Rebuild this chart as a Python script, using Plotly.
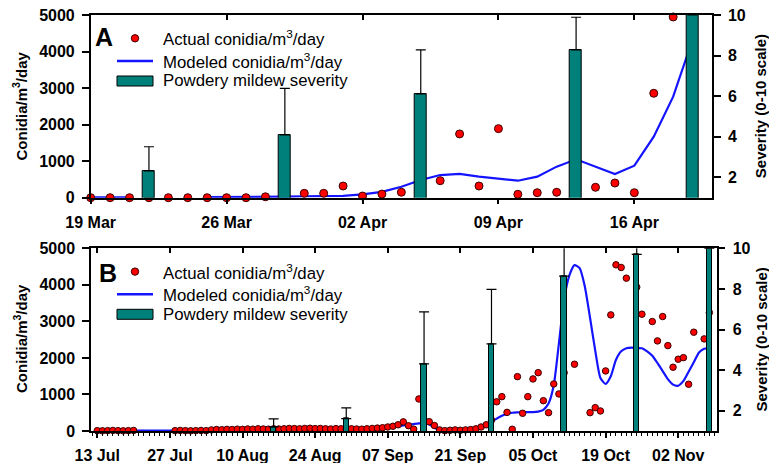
import plotly.graph_objects as go
import pandas as pd

W, H = 769, 463
FONT = "Liberation Sans, Arial, sans-serif"
RED = "#ff0000"
DOT_EDGE = "#3a0000"
BLUE = "#1414ff"
TEAL = "#00807a"

# ---------------- Panel A data ----------------
a_dates = pd.date_range("2019-03-19", periods=32, freq="D")
a_actual = [0, 0, 0, 0, 0, 0, 0, 0, 0, 25, None, 120, 120, 320, 45, 100,
            150, None, 465, 1745, 320, 1890, 93, 137, 148, None, 285, 402,
            137, 2858, 4947, None]
a_model = [10, 10, 10, None, None, None, 15, 15, 20, 25, 30, 40, 45, 50,
           90, 160, 300, 485, 620, 650, 575, 530, 465, 575, 850, 1050, 850,
           650, 876, 1670, 2765, 4330]
a_bar_dates = ["2019-03-22", "2019-03-29", "2019-04-05", "2019-04-13", "2019-04-19"]
a_severity = [2.32, 4.09, 6.11, 8.28, 10.0]
a_sev_err = [1.19, 2.30, 2.17, 1.61, 1.0]

# ---------------- Panel B data ----------------
b_dates = pd.date_range("2019-07-13", periods=119, freq="D")
b_actual = ([10, 5, 10, 15, 10, 5, 10, 15] +
            [None] * 7 +
            [10, 15, 10, 5, 10, 15, 10] +
            [30, 40, 35, 45, 40, 50, 45, 55, 50, 60, 55, 50] +
            [60] +
            [55, 60, 70, 65, 60, 70, 75, 65, 70, 60, 55, 65, 60] +
            [50] +
            [60, 55, 50, 60, 70, 80] +
            [90, 110, 130, 170, 250, 145, 50, 877, 300] +
            [255, 150, 30, 10, 20, 30, 20, 30, 40, 60, 110, 170, 300] +
            [800, 940, 510, 47, 1488, 485, 940, 1425, 1597, 830, 502, 1288,
             1014, 1597, None, 1827, None, None, 502, 639, 548, 1644, 3178,
             4548, 4475, 4183, None, 3937, 3197, None, 2995, 2466, 3132,
             2337, 1745, 1964, 2008, 1280, 2704, None, 2521, 3241])
b_model = ([10] * 21 + [15] * 9 +
           [20, 20, 25, 25, 30, 30, 30, 35, 35, 35, 40, 40, 40, 45, 45, 45,
            50, 50, 50, 50] +
           [50, 55, 60, 70, 80, 90, 100, 115, 130, 150, 170, 190, 210] +
           [220, 180, 90, 30, 15, 10, 10, 10, 15, 25, 50, 110, 180, 250, 340,
            420, 470, 500, 510, 515, 515, 515, 530, 580, 750, 1250, 2400,
            3600, 4250, 4540, 4456, 3950, 3100, 2200, 1450, 1290, 1500, 1950,
            2180, 2265, 2280, 2270, 2265, 2180, 2060, 1860, 1640, 1420, 1270,
            1240, 1370, 1620, 1880, 2150, 2250, 2270])
b_bar_dates = ["2019-08-16", "2019-08-30", "2019-09-14", "2019-09-27",
               "2019-10-11", "2019-10-25", "2019-11-08"]
b_severity = [1.2, 1.61, 4.31, 5.29, 8.63, 9.70, 10.0]
b_sev_err = [0.4, 0.53, 2.56, 2.69, 2.0, 1.5, 1.0]

assert len(b_actual) == 119 and len(b_model) == 119

legend_labels = ["Actual conidia/m<sup>3</sup>/day",
                 "Modeled conidia/m<sup>3</sup>/day",
                 "Powdery mildew severity"]
left_title = "Conidia/m<sup>3</sup>/day"
right_title = "Severity (0-10 scale)"

DAY_MS = 86400000

fig = go.Figure()

# ---- Panel A traces ----
fig.add_trace(go.Scatter(x=a_dates, y=a_model, mode="lines",
                         line=dict(color=BLUE, width=2.2), connectgaps=False,
                         cliponaxis=False, xaxis="x", yaxis="y", showlegend=False))
fig.add_trace(go.Scatter(x=a_dates, y=a_actual, mode="markers",
                         marker=dict(size=8, color=RED, line=dict(color=DOT_EDGE, width=1)),
                         cliponaxis=False, xaxis="x", yaxis="y", showlegend=False))
fig.add_trace(go.Bar(x=a_bar_dates, y=a_severity, width=0.62 * DAY_MS,
                     marker=dict(color=TEAL, line=dict(color="black", width=1)),
                     error_y=dict(type="data", symmetric=False, array=a_sev_err,
                                  arrayminus=[0] * len(a_sev_err), color="black",
                                  thickness=1.2, width=5),
                     xaxis="x", yaxis="y2", showlegend=False))
fig.add_trace(go.Scatter(x=[a_dates[0]], y=[None], xaxis="x3", yaxis="y",
                         showlegend=False, hoverinfo="skip"))

# ---- Panel B traces ----
fig.add_trace(go.Scatter(x=b_dates, y=b_model, mode="lines",
                         line=dict(color=BLUE, width=2.2, shape="spline", smoothing=0.6),
                         cliponaxis=False, xaxis="x2", yaxis="y3", showlegend=False))
fig.add_trace(go.Scatter(x=b_dates, y=b_actual, mode="markers",
                         marker=dict(size=6.5, color=RED, line=dict(color=DOT_EDGE, width=1)),
                         cliponaxis=False, xaxis="x2", yaxis="y3", showlegend=False))
fig.add_trace(go.Bar(x=b_bar_dates, y=b_severity, width=1.06 * DAY_MS,
                     marker=dict(color=TEAL, line=dict(color="black", width=1)),
                     error_y=dict(type="data", symmetric=False, array=b_sev_err,
                                  arrayminus=[0] * len(b_sev_err), color="black",
                                  thickness=1.2, width=5),
                     xaxis="x2", yaxis="y4", showlegend=False))
fig.add_trace(go.Scatter(x=[b_dates[0]], y=[None], xaxis="x4", yaxis="y3",
                         showlegend=False, hoverinfo="skip"))


def px(x):
    return x / W


def py(y):
    return 1 - y / H


tickfont = dict(family=FONT, size=16, color="black", weight="bold")
axis_common = dict(showline=True, linecolor="black", linewidth=1.5, showgrid=False,
                   zeroline=False, tickcolor="black", tickwidth=1.5,
                   tickfont=tickfont, automargin=False)

A_x = [px(90.7), px(712)]
A_y = [py(197.7), py(15)]
B_x = [px(91), px(716.7)]
B_y = [py(431), py(248.3)]

a_range = ["2019-03-19", "2019-04-20"]
b_range = ["2019-07-11 19:00", "2019-11-09 10:00"]

fig.update_layout(
    width=W, height=H,
    margin=dict(l=0, r=0, t=0, b=0),
    paper_bgcolor="white", plot_bgcolor="rgba(0,0,0,0)",
    font=dict(family=FONT, color="black"),
    showlegend=False,
    bargap=0,
    xaxis=dict(domain=A_x, anchor="y", type="date", range=a_range,
               tick0="2019-03-19", dtick=7 * DAY_MS, tickformat="%d %b",
               ticks="outside", ticklen=5, ticklabelstandoff=4, **axis_common),
    xaxis3=dict(overlaying="x", anchor="y", side="top", type="date", range=a_range,
                tick0="2019-03-19", dtick=7 * DAY_MS, ticks="inside", ticklen=5,
                showticklabels=False, **axis_common),
    yaxis=dict(domain=A_y, anchor="x", range=[0, 5000], dtick=1000,
               ticks="outside", ticklen=7, ticklabelstandoff=4, **axis_common),
    yaxis2=dict(overlaying="y", anchor="x", side="right", range=[1, 10],
                tickvals=[2, 4, 6, 8, 10], ticks="outside", ticklen=7,
                ticklabelstandoff=4, **axis_common),
    xaxis2=dict(domain=B_x, anchor="y3", type="date", range=b_range,
                tick0="2019-07-13", dtick=14 * DAY_MS, tickformat="%d %b",
                ticks="outside", ticklen=5, ticklabelstandoff=4,
                minor=dict(ticks="outside", ticklen=3, dtick=DAY_MS,
                           tick0="2019-07-13", tickcolor="black", tickwidth=1),
                **axis_common),
    xaxis4=dict(overlaying="x2", anchor="y3", side="top", type="date", range=b_range,
                tick0="2019-07-13", dtick=14 * DAY_MS, ticks="inside", ticklen=5,
                showticklabels=False, **axis_common),
    yaxis3=dict(domain=B_y, anchor="x2", range=[0, 5000], dtick=1000,
                ticks="outside", ticklen=7, ticklabelstandoff=4, **axis_common),
    yaxis4=dict(overlaying="y3", anchor="x2", side="right", range=[1, 10],
                tickvals=[2, 4, 6, 8, 10], ticks="outside", ticklen=7,
                ticklabelstandoff=4, **axis_common),
)

annotations = []
shapes = []

panels = [("A", 0.0, (104, 37.3), 106.5, 106.7), ("B", 233.3, (108.3, 272.5), 339.0, 340.0)]
for letter, dy, (lx, ly), ly_left, ly_right in panels:
    annotations.append(dict(text="<b>%s</b>" % letter, x=px(lx), y=py(ly), xref="paper",
                            yref="paper", xanchor="center", yanchor="middle",
                            showarrow=False, font=dict(family=FONT, size=25, color="black")))
    annotations.append(dict(text="<b>%s</b>" % left_title, x=px(20), y=py(ly_left),
                            xref="paper", yref="paper", xanchor="center", yanchor="middle",
                            textangle=-90, showarrow=False,
                            font=dict(family=FONT, size=15, color="black")))
    annotations.append(dict(text="<b>%s</b>" % right_title, x=px(760.5), y=py(ly_right),
                            xref="paper", yref="paper", xanchor="center", yanchor="middle",
                            textangle=-90, showarrow=False,
                            font=dict(family=FONT, size=15, color="black")))
    rows = [38.3 + dy, 61 + dy, 80.7 + dy]
    for lab, ry in zip(legend_labels, rows):
        annotations.append(dict(text=lab, x=px(161), y=py(ry), xref="paper", yref="paper",
                                xanchor="left", yanchor="middle", showarrow=False,
                                font=dict(family=FONT, size=16.8, color="black")))
    # legend symbols
    shapes.append(dict(type="circle", xref="paper", yref="paper",
                       x0=px(131.3), x1=px(138.7), y0=py(rows[0] + 3.7), y1=py(rows[0] - 3.7),
                       fillcolor=RED, line=dict(color=DOT_EDGE, width=1)))
    shapes.append(dict(type="line", xref="paper", yref="paper",
                       x0=px(117), x1=px(153), y0=py(rows[1]), y1=py(rows[1]),
                       line=dict(color=BLUE, width=2.5)))
    shapes.append(dict(type="rect", xref="paper", yref="paper",
                       x0=px(117), x1=px(153), y0=py(rows[2] + 5.3), y1=py(rows[2] - 4.7),
                       fillcolor=TEAL, line=dict(color="black", width=1)))

fig.update_layout(annotations=annotations, shapes=shapes)

fig.write_html("out.html", config={"displayModeBar": False},
               post_script="document.body.style.margin='0px';document.body.style.overflow='hidden';")
